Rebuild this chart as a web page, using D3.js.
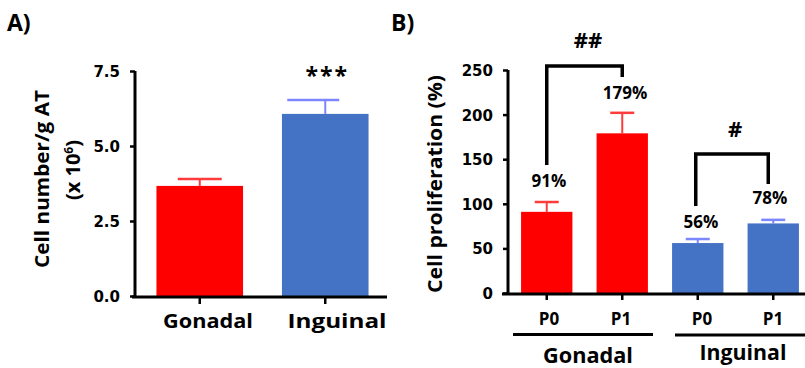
<!DOCTYPE html>
<html><head><meta charset="utf-8">
<script src="https://cdn.jsdelivr.net/npm/d3@7"></script>
<style>body{margin:0;background:#fff}text{font-family:"Open Sans",sans-serif;font-weight:700;fill:#000}.tick text{font-family:"DejaVu Sans",sans-serif}</style>
</head><body>
<script>
// Panel A data
const catsA = ["Gonadal", "Inguinal"];
const valsA = [3.67, 6.07];
const errA = [3.9, 6.53];
const ticksA = [0, 2.5, 5, 7.5];
// Panel B data
const catsB = ["G-P0", "G-P1", "I-P0", "I-P1"];
const subLabelsB = ["P0", "P1", "P0", "P1"];
const valsB = [91, 179, 56, 78];
const errB = [102, 202, 60.5, 82];
const pctB = ["91%", "179%", "56%", "78%"];
const ticksB = [0, 50, 100, 150, 200, 250];
const groupsB = ["Gonadal", "Inguinal"];
const colorsA = ["#ff0000", "#4472c4"];
const errColorsA = ["#ff3b3b", "#7b86ff"];
const colorsB = ["#ff0000", "#ff0000", "#4472c4", "#4472c4"];
const errColorsB = ["#ff3b3b", "#ff3b3b", "#7b86ff", "#7b86ff"];

const svg = d3.select("body").append("svg").attr("width", 805).attr("height", 368);

// ---------- Panel A ----------
const yA = d3.scaleLinear().domain([0, 7.5]).range([296, 71]);
const xA = d3.scaleBand().domain(catsA).range([137, 388]);
const bwA = xA.bandwidth() * 0.69;
const gA = svg.append("g");
gA.append("text").attr("x", 7).attr("y", 31).style("font-size", "23px").text("A)");
const capA = [44, 52];
const capOffA = [0, -12];
catsA.forEach((c, i) => {
  const cx = xA(c) + xA.bandwidth() / 2;
  gA.append("line").attr("x1", cx).attr("x2", cx).attr("y1", yA(valsA[i])).attr("y2", yA(errA[i]))
    .attr("stroke", errColorsA[i]).attr("stroke-width", 2);
  gA.append("line").attr("x1", cx + capOffA[i] - capA[i] / 2).attr("x2", cx + capOffA[i] + capA[i] / 2)
    .attr("y1", yA(errA[i])).attr("y2", yA(errA[i]))
    .attr("stroke", errColorsA[i]).attr("stroke-width", 2.5);
});
gA.selectAll("rect.bar").data(catsA).enter().append("rect")
  .attr("x", d => xA(d) + (xA.bandwidth() - bwA) / 2)
  .attr("width", bwA)
  .attr("y", (d, i) => yA(valsA[i]))
  .attr("height", (d, i) => yA(0) - yA(valsA[i]))
  .attr("fill", (d, i) => colorsA[i]);
const axA = gA.append("g").attr("transform", "translate(135,0)")
  .call(d3.axisLeft(yA).tickValues(ticksA).tickFormat(d3.format(".1f")).tickSize(5).tickPadding(10));
axA.select(".domain").attr("stroke", "#000").attr("stroke-width", 3).attr("d", "M0,71V297");
axA.selectAll(".tick line").attr("stroke-width", 2.5);
axA.selectAll(".tick text").style("font-size", "15px").attr("dy", "0.36em");
gA.append("line").attr("x1", 132).attr("x2", 387).attr("y1", 297).attr("y2", 297).attr("stroke", "#000").attr("stroke-width", 3);
const xLabA = [208, 337];
catsA.forEach((c, i) => {
  const cx = xA(c) + xA.bandwidth() / 2;
  gA.append("line").attr("x1", cx).attr("x2", cx).attr("y1", 297).attr("y2", 304).attr("stroke", "#000").attr("stroke-width", 2.5);
  gA.append("text").attr("x", xLabA[i]).attr("y", 328).attr("text-anchor", "middle").style("font-size", "20px")
    .attr("textLength", i === 0 ? 90 : 99).attr("lengthAdjust", "spacingAndGlyphs").text(c);
});
gA.append("text").attr("x", xA("Inguinal") + xA.bandwidth() / 2 + 2).attr("y", 84).attr("text-anchor", "middle")
  .style("font-size", "23px").style("letter-spacing", "2px").text("***");
gA.append("text").attr("transform", "translate(49,179) rotate(-90)").attr("text-anchor", "middle").style("font-size", "20px")
  .attr("textLength", 178).attr("lengthAdjust", "spacingAndGlyphs").text("Cell number/g AT");
const yl2 = gA.append("text").attr("transform", "translate(80,170) rotate(-90)").attr("text-anchor", "middle").style("font-size", "20px");
yl2.append("tspan").text("(x 10");
yl2.append("tspan").attr("dy", "-7").style("font-size", "12px").text("6");
yl2.append("tspan").attr("dy", "7").text(")");

// ---------- Panel B ----------
const yB = d3.scaleLinear().domain([0, 250]).range([293, 70]);
const xB = d3.scaleBand().domain(catsB).range([509, 811]);
const bwB = xB.bandwidth() * 0.68;
const gB = svg.append("g");
gB.append("text").attr("x", 391).attr("y", 31).style("font-size", "23px").text("B)");
catsB.forEach((c, i) => {
  const cx = xB(c) + xB.bandwidth() / 2;
  gB.append("line").attr("x1", cx).attr("x2", cx).attr("y1", yB(valsB[i])).attr("y2", yB(errB[i]))
    .attr("stroke", errColorsB[i]).attr("stroke-width", 2);
  gB.append("line").attr("x1", cx - 12).attr("x2", cx + 12).attr("y1", yB(errB[i])).attr("y2", yB(errB[i]))
    .attr("stroke", errColorsB[i]).attr("stroke-width", 2.5);
});
gB.selectAll("rect.bar").data(catsB).enter().append("rect")
  .attr("x", d => xB(d) + (xB.bandwidth() - bwB) / 2)
  .attr("width", bwB)
  .attr("y", (d, i) => yB(valsB[i]))
  .attr("height", (d, i) => yB(0) - yB(valsB[i]))
  .attr("fill", (d, i) => colorsB[i]);
const axB = gB.append("g").attr("transform", "translate(508,0)")
  .call(d3.axisLeft(yB).tickValues(ticksB).tickSize(5).tickPadding(10));
axB.select(".domain").attr("stroke", "#000").attr("stroke-width", 3).attr("d", "M0,70V294");
axB.selectAll(".tick line").attr("stroke-width", 2.5);
axB.selectAll(".tick text").style("font-size", "15px").attr("dy", "0.36em");
gB.append("line").attr("x1", 502).attr("x2", 805).attr("y1", 294).attr("y2", 294).attr("stroke", "#000").attr("stroke-width", 3);
const subX = [549, 621, 702, 773];
catsB.forEach((c, i) => {
  const cx = xB(c) + xB.bandwidth() / 2;
  gB.append("line").attr("x1", cx).attr("x2", cx).attr("y1", 294).attr("y2", 300).attr("stroke", "#000").attr("stroke-width", 2.5);
  gB.append("text").attr("x", subX[i]).attr("y", 325).attr("text-anchor", "middle").style("font-size", "17px").text(subLabelsB[i]);
});
const pctY = [187, 99, 228, 204];
const pctX = [549, 625, 701, 770];
catsB.forEach((c, i) => {
  gB.append("text").attr("x", pctX[i]).attr("y", pctY[i]).attr("text-anchor", "middle").style("font-size", "17px").text(pctB[i]);
});
function bracket(x1, yL, x2, yR, yTop) {
  gB.append("path").attr("d", `M${x1},${yL}V${yTop}H${x2}V${yR}`).attr("fill", "none")
    .attr("stroke", "#000").attr("stroke-width", 3.5);
}
const cxB = c => xB(c) + xB.bandwidth() / 2;
bracket(cxB("G-P0"), 165, cxB("G-P1"), 77, 66);
gB.append("text").attr("x", 588).attr("y", 48).attr("text-anchor", "middle").style("font-size", "22px").text("##");
bracket(cxB("I-P0") - 2, 206, cxB("I-P1") - 5, 184, 154);
gB.append("text").attr("x", 735).attr("y", 137).attr("text-anchor", "middle").style("font-size", "22px").text("#");
gB.append("line").attr("x1", 513).attr("x2", 653).attr("y1", 334.5).attr("y2", 334.5).attr("stroke", "#000").attr("stroke-width", 3);
gB.append("line").attr("x1", 675).attr("x2", 805).attr("y1", 335).attr("y2", 335).attr("stroke", "#000").attr("stroke-width", 3);
gB.append("text").attr("x", 588).attr("y", 363).attr("text-anchor", "middle").style("font-size", "21px")
  .attr("textLength", 90).attr("lengthAdjust", "spacingAndGlyphs").text(groupsB[0]);
gB.append("text").attr("x", 743).attr("y", 360).attr("text-anchor", "middle").style("font-size", "21px")
  .attr("textLength", 87).attr("lengthAdjust", "spacingAndGlyphs").text(groupsB[1]);
gB.append("text").attr("transform", "translate(442,184) rotate(-90)").attr("text-anchor", "middle").style("font-size", "20px")
  .attr("textLength", 218).attr("lengthAdjust", "spacingAndGlyphs").text("Cell proliferation (%)");
</script>
</body></html>
